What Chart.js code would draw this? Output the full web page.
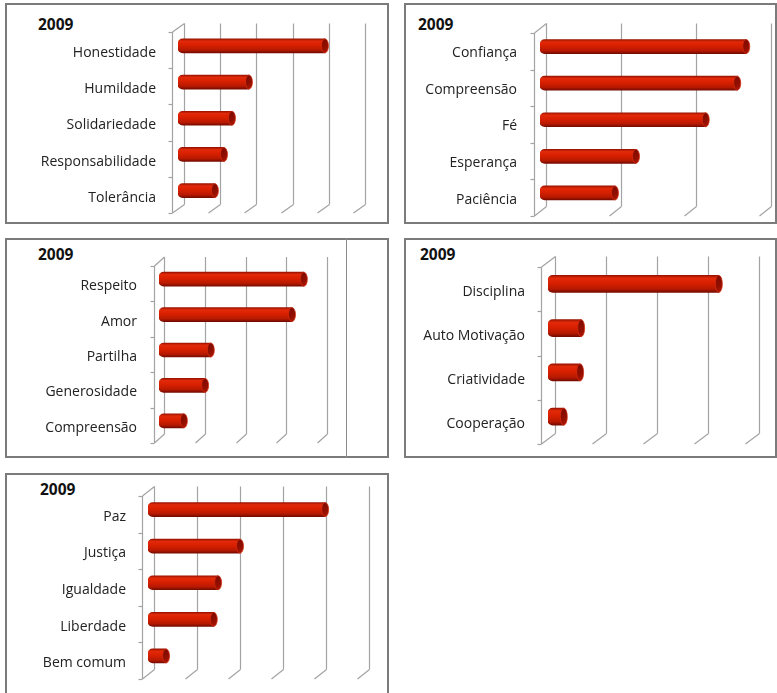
<!DOCTYPE html>
<html><head><meta charset="utf-8">
<script src="https://cdn.jsdelivr.net/npm/chart.js@4.4.1/dist/chart.umd.min.js"></script>
<style>
html,body{margin:0;padding:0;background:#fff;width:777px;height:693px;overflow:hidden;position:relative}
.panel{position:absolute;box-sizing:border-box;border:2px solid #7b7b7b;background:#fff}
.title{position:absolute;font:bold 15.5px "Open Sans";line-height:15px;color:#111;white-space:nowrap}
.vline{position:absolute;width:0;border-left:1.5px solid #8a8a8a}
canvas{position:absolute}
</style></head><body>
<script>
// ---- data ----
const yearTitle = '2009';
const valoresLabels = ['Honestidade','Humildade','Solidariedade','Responsabilidade','Tolerância'];
const valoresValues = [40.6, 19.6, 14.9, 12.7, 10.2];
const valoresMax = 50;
const feLabels = ['Confiança','Compreensão','Fé','Esperança','Paciência'];
const feValues = [27.5, 26.3, 22.1, 12.8, 10.0];
const feMax = 30;
const afetoLabels = ['Respeito','Amor','Partilha','Generosidade','Compreensão'];
const afetoValues = [35.5, 32.6, 12.7, 11.3, 6.1];
const afetoMax = 40;
const trabalhoLabels = ['Disciplina','Auto Motivação','Criatividade','Cooperação'];
const trabalhoValues = [33.5, 6.5, 6.3, 3.1];
const trabalhoMax = 40;
const sociedadeLabels = ['Paz','Justiça','Igualdade','Liberdade','Bem comum'];
const sociedadeValues = [41.2, 21.4, 16.3, 15.3, 4.2];
const sociedadeMax = 50;
const gridStep = 10;

// ---- layout (positions only) ----
const panels = [
  {labels:valoresLabels, values:valoresValues, max:valoresMax,
   box:{x:5,y:3,w:384,h:221}, front:{left:172,top:32,bottom:213,step:36.2}, hx:6, hu:4.25, labelRight:156, thick:14, lblShift:3, title:{x:38,y:17}},
  {labels:feLabels, values:feValues, max:feMax,
   box:{x:404,y:3,w:373,h:221}, front:{left:534,top:33,bottom:216,step:75}, hx:6, hu:4.75, labelRight:517, thick:14, lblShift:2, title:{x:418,y:17}},
  {labels:afetoLabels, values:afetoValues, max:afetoMax,
   box:{x:5,y:238,w:384,h:220}, front:{left:154,top:266,bottom:443,step:40.8}, hx:5, hu:4.5, labelRight:137, thick:14, lblShift:2.5, title:{x:38,y:247}},
  {labels:trabalhoLabels, values:trabalhoValues, max:trabalhoMax,
   box:{x:404,y:238,w:373,h:220}, front:{left:541,top:267,bottom:444,step:51}, hx:7, hu:5.25, labelRight:525, thick:17, lblShift:2.5, title:{x:420,y:247}},
  {labels:sociedadeLabels, values:sociedadeValues, max:sociedadeMax,
   box:{x:5,y:473,w:384,h:226}, front:{left:142,top:496,bottom:679,step:43}, hx:6, hu:4.75, labelRight:126, thick:14, lblShift:2.5, title:{x:40,y:482}}
];

const frame3d = {
  id:'frame3d',
  beforeDatasetsDraw(chart, args, o){
    const {ctx, chartArea:{left,top,bottom}} = chart;
    const xS = chart.scales.x, yS = chart.scales.y;
    const hx=o.hx, hu=o.hu;
    ctx.save();
    ctx.strokeStyle=o.color; ctx.lineWidth=1.2;
    const line=(x1,y1,x2,y2)=>{ctx.beginPath();ctx.moveTo(x1,y1);ctx.lineTo(x2,y2);ctx.stroke();};
    let vals = xS.ticks.map(t=>t.value);
    if (!vals.length){ for(let v=xS.min; v<=xS.max+1e-9; v+=gridStep) vals.push(v); }
    vals.forEach(v=>{
      const px = Math.round(xS.getPixelForValue(v));
      line(px+hx+0.5, top-hu, px+hx+0.5, bottom-hu);
      line(px-hx+0.5, bottom+hu, px+hx+0.5, bottom-hu);
    });
    const fl = Math.round(left-hx)+0.5;
    line(fl, top+hu, fl, bottom+hu);
    line(fl, top+hu, fl+2*hx, top-hu);
    const n = chart.data.labels.length;
    for(let i=0;i<=n;i++){
      const y = Math.round(yS.getPixelForValue(i-0.5)+hu)+0.5;
      line(fl-4, y, fl, y);
    }
    ctx.restore();
  },
  afterDatasetsDraw(chart, args, o){
    const ctx = chart.ctx;
    const meta = chart.getDatasetMeta(0);
    ctx.save();
    meta.data.forEach(el=>{
      const {x,y,height} = el.getProps(['x','y','height'], true);
      if(!isFinite(x)||!isFinite(y)||!isFinite(height)) return;
      const ry = height/2, rx = o.capRx;
      const g = ctx.createLinearGradient(x-rx, y-ry, x+rx, y+ry);
      g.addColorStop(0,'#7a0a00'); g.addColorStop(0.6,'#930f00'); g.addColorStop(1,'#b21800');
      ctx.beginPath(); ctx.ellipse(x, y, rx, ry, 0, 0, Math.PI*2);
      ctx.fillStyle=g; ctx.fill();
      ctx.lineWidth=0.8; ctx.strokeStyle='rgba(215,45,15,0.9)'; ctx.stroke();
    });
    ctx.restore();
  }
};

panels.forEach((p)=>{
  const div = document.createElement('div');
  div.className='panel';
  Object.assign(div.style,{left:p.box.x+'px',top:p.box.y+'px',width:p.box.w+'px',height:p.box.h+'px'});
  document.body.appendChild(div);
});
// stray vertical line inside the third panel
{
  const v=document.createElement('div'); v.className='vline';
  Object.assign(v.style,{left:'346px',top:'238px',height:'220px'});
  document.body.appendChild(v);
}

panels.forEach((p)=>{
  const t=document.createElement('div'); t.className='title'; t.textContent=yearTitle;
  Object.assign(t.style,{left:p.title.x+'px',top:p.title.y+'px'});
  document.body.appendChild(t);

  const c=document.createElement('canvas');
  c.width=p.box.w; c.height=p.box.h;
  Object.assign(c.style,{left:p.box.x+'px',top:p.box.y+'px',width:p.box.w+'px',height:p.box.h+'px'});
  document.body.appendChild(c);

  const nInt = p.max/gridStep;
  const midLeft = p.front.left + p.hx;
  const midTop = p.front.top - p.hu;
  const midBottom = p.front.bottom - p.hu;
  const midRight = midLeft + nInt*p.front.step;
  const yW = midLeft - p.box.x;
  const thick = p.thick;

  new Chart(c,{
    type:'bar',
    data:{labels:p.labels, datasets:[{
      data:p.values,
      backgroundColor:(ctx)=>{
        const chart=ctx.chart, yS=chart.scales.y;
        if(!yS || ctx.type!=='data' || !chart.chartArea) return '#d42000';
        const yc=yS.getPixelForValue(ctx.dataIndex), h=thick/2;
        if(!isFinite(yc)) return '#d42000';
        const g=chart.ctx.createLinearGradient(0,yc-h,0,yc+h);
        g.addColorStop(0,'#9a1300'); g.addColorStop(0.16,'#e22a0a'); g.addColorStop(0.45,'#d82000');
        g.addColorStop(0.8,'#b61900'); g.addColorStop(1,'#760b00');
        return g;
      },
      borderWidth:0, borderSkipped:false,
      borderRadius:{topLeft:5,bottomLeft:5,topRight:0,bottomRight:0},
      barThickness:thick
    }]},
    options:{
      indexAxis:'y', responsive:false, animation:false, events:[],
      layout:{padding:{left:0, top:midTop-p.box.y, bottom:(p.box.y+p.box.h)-midBottom, right:(p.box.x+p.box.w)-midRight}},
      plugins:{legend:{display:false}, tooltip:{enabled:false},
        frame3d:{hx:p.hx, hu:p.hu, color:'#a3a3a3', capRx:3.5}},
      scales:{
        x:{display:false, min:0, max:p.max, ticks:{stepSize:gridStep, display:false}, grid:{drawTicks:false}},
        y:{afterFit(s){s.width=yW; s.paddingTop=0; s.paddingBottom=0;}, grid:{display:false, drawTicks:false}, border:{display:false},
           ticks:{padding:midLeft-p.labelRight, labelOffset:p.hu+p.lblShift, autoSkip:false, color:'#222',
                  font:{family:'Open Sans', size:14}}}
      }
    },
    plugins:[frame3d]
  });
});
</script>
</body></html>
